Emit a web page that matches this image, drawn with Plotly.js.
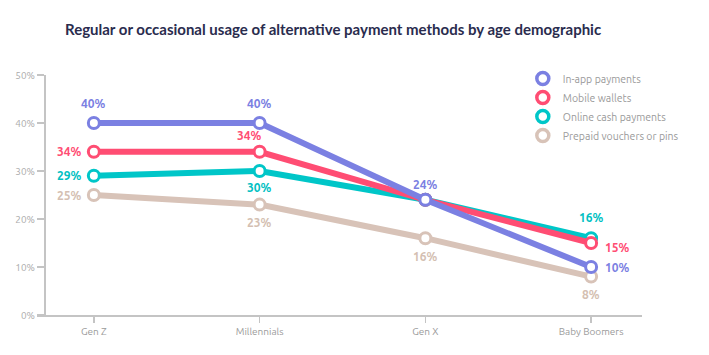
<!DOCTYPE html>
<html><head><meta charset="utf-8">
<script src="https://cdn.plot.ly/plotly-3.0.1.min.js"></script>
<style>body{margin:0;background:#fff}#c{width:709px;height:355px}</style>
</head><body><div id="c"></div>
<script>
const categories = ["Gen Z", "Millennials", "Gen X", "Baby Boomers"];
const seriesNames = ["In-app payments", "Mobile wallets", "Online cash payments", "Prepaid vouchers or pins"];
const inApp = [40, 40, 24, 10];
const mobileWallets = [34, 34, 24, 15];
const onlineCash = [29, 30, 24, 16];
const prepaid = [25, 23, 16, 8];
const yTicks = [0, 10, 20, 30, 40, 50];

const colors = ["#7b80e2", "#ff4d73", "#00c6c8", "#d8c3b8"];
const labelColors = ["#7b80e2", "#ff4d73", "#00c0c2", "#d4bfb2"];
const allSeries = [inApp, mobileWallets, onlineCash, prepaid];
// label placement per point: [xshift, yshift] or null
const labelPos = [
  [[0, 20], [0, 20], [0, 15], [26, 0]],
  [[-24, 0], [-10, 16], null, [26, -4]],
  [[-24, 0], [0, -16], null, [0, 21]],
  [[-24, 0], [0, -18], [0, -18], [0, -18]]
];

const traces = [];
for (let i = allSeries.length - 1; i >= 0; i--) {
  traces.push({
    type: "scatter", mode: "lines+markers",
    x: categories, y: allSeries[i], name: seriesNames[i], showlegend: false,
    line: {color: colors[i], width: 6},
    marker: {symbol: "circle", size: 11, color: "#ffffff", line: {color: colors[i], width: 3}},
    hoverinfo: "skip"
  });
}
for (let i = 0; i < allSeries.length; i++) {
  traces.push({
    type: "scatter", mode: "markers", x: [null], y: [null], name: seriesNames[i],
    marker: {symbol: "circle-open", size: 12, color: colors[i], line: {width: 3.5}}
  });
}

const annotations = [];
allSeries.forEach((s, i) => {
  s.forEach((v, j) => {
    const p = labelPos[i][j];
    if (!p) return;
    annotations.push({
      x: categories[j], y: v, xref: "x", yref: "y", text: v + "%", showarrow: false,
      xshift: p[0], yshift: p[1],
      font: {family: "Ubuntu, 'Noto Sans', sans-serif", size: 12, color: labelColors[i], weight: 700}
    });
  });
});

const layout = {
  width: 709, height: 355,
  margin: {l: 37, r: 67, t: 75, b: 40},
  paper_bgcolor: "#fff", plot_bgcolor: "#fff",
  title: {text: "Regular or occasional usage of alternative payment methods by age demographic",
    x: 0.0917, xanchor: "left", y: 0.915, yanchor: "middle",
    font: {family: "Lato, sans-serif", size: 15, color: "#2a2c4e", weight: 700}},
  xaxis: {
    type: "category", range: [-0.343, 3.307], showgrid: false, zeroline: false,
    showline: true, linecolor: "#c4c4c4", linewidth: 1.5,
    ticks: "outside", ticklen: 6, tickcolor: "#c4c4c4", tickwidth: 1.5,
    tickfont: {family: "Ubuntu, 'Noto Sans', sans-serif", size: 10, color: "#9a9a9a"}
  },
  yaxis: {
    range: [0, 50], tickvals: yTicks, ticktext: yTicks.map(v => v + "%"),
    showgrid: false, zeroline: false, anchor: "free", position: 0.0116,
    showline: true, linecolor: "#c4c4c4", linewidth: 1.5,
    ticks: "outside", ticklen: 7, tickcolor: "#c4c4c4", tickwidth: 1.5,
    tickfont: {family: "Ubuntu, 'Noto Sans', sans-serif", size: 10, color: "#aaaaaa"}
  },
  legend: {x: 0.803, y: 1.046, xanchor: "left", yanchor: "top", bgcolor: "rgba(0,0,0,0)",
    font: {family: "Ubuntu, 'Noto Sans', sans-serif", size: 10.5, color: "#9a9a9a"},
    itemwidth: 30, tracegroupgap: 0},
  annotations: annotations,
  showlegend: true
};
Plotly.newPlot("c", traces, layout, {staticPlot: true, displayModeBar: false});
</script></body></html>
